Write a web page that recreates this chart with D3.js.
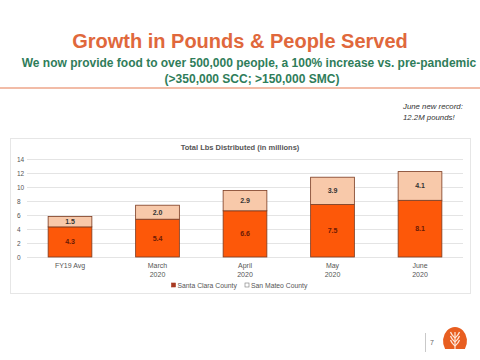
<!DOCTYPE html>
<html><head><meta charset="utf-8">
<script src="https://cdn.jsdelivr.net/npm/d3@7"></script>
<style>body{margin:0;background:#fff}svg{display:block;font-family:Arial,"Liberation Sans",sans-serif}</style>
</head><body>
<script>
const categories = ["FY19 Avg", "March\n2020", "April\n2020", "May\n2020", "June\n2020"];
const santaClara = [4.3, 5.4, 6.6, 7.5, 8.1];
const sanMateo = [1.5, 2.0, 2.9, 3.9, 4.1];
const yTicks = [0, 2, 4, 6, 8, 10, 12, 14];
const seriesNames = ["Santa Clara County", "San Mateo County"];

const W = 480, H = 360;
const svg = d3.select("body").append("svg").attr("width", W).attr("height", H);

// Title
svg.append("text").attr("x", 240).attr("y", 47.5).attr("text-anchor", "middle")
  .attr("font-size", 20).attr("font-weight", "bold").attr("fill", "#e0683c")
  .text("Growth in Pounds & People Served");
svg.append("text").attr("x", 249).attr("y", 67).attr("text-anchor", "middle")
  .attr("font-size", 12).attr("font-weight", "bold").attr("fill", "#2f7d5a")
  .text("We now provide food to over 500,000 people, a 100% increase vs. pre-pandemic");
svg.append("text").attr("x", 252).attr("y", 82.5).attr("text-anchor", "middle")
  .attr("font-size", 12).attr("font-weight", "bold").attr("fill", "#2f7d5a")
  .text("(>350,000 SCC; >150,000 SMC)");
svg.append("line").attr("x1", 0).attr("x2", 480).attr("y1", 88).attr("y2", 88)
  .attr("stroke", "#eea68a").attr("stroke-width", 1.5);

// annotation
svg.append("text").attr("x", 403).attr("y", 109).attr("font-size", 7.8).attr("font-style", "italic").attr("fill", "#333").text("June new record:");
svg.append("text").attr("x", 403).attr("y", 119.5).attr("font-size", 7.8).attr("font-style", "italic").attr("fill", "#333").text("12.2M pounds!");

// chart box
svg.append("rect").attr("x", 10.5).attr("y", 138.5).attr("width", 460).attr("height", 155)
  .attr("fill", "#fff").attr("stroke", "#e6e6e6").attr("stroke-width", 1);

svg.append("text").attr("x", 240).attr("y", 150).attr("text-anchor", "middle")
  .attr("font-size", 7.5).attr("font-weight", "bold").attr("fill", "#555")
  .text("Total Lbs Distributed (in millions)");

const x = d3.scaleBand().domain(categories).range([26.25, 463.75]).paddingInner(0.5).paddingOuter(0.25);
const y = d3.scaleLinear().domain([0, 14]).range([257, 159]);

// gridlines
svg.append("g").selectAll("line").data(yTicks).join("line")
  .attr("x1", 27).attr("x2", 463).attr("y1", d => Math.round(y(d)) + 0.5).attr("y2", d => Math.round(y(d)) + 0.5)
  .attr("stroke", "#e4e4e4").attr("stroke-width", 1);

// y axis labels
const yAxis = d3.axisLeft(y).tickValues(yTicks).tickSize(0).tickPadding(0);
const gy = svg.append("g").attr("transform", "translate(17,0)").call(yAxis);
gy.select(".domain").remove();
gy.selectAll("text").attr("text-anchor", "start").attr("x", 0).attr("font-size", 6.5).attr("fill", "#555").attr("font-family", "Arial, Liberation Sans, sans-serif");

// x axis labels
const xAxis = d3.axisBottom(x).tickSize(0).tickPadding(0).tickFormat(() => "");
const gx = svg.append("g").attr("transform", "translate(0,262)").call(xAxis);
gx.select(".domain").remove();
gx.selectAll(".tick").each(function(d) {
  const lines = d.split("\n");
  const t = d3.select(this).select("text").text(null).attr("font-size", 7).attr("fill", "#555")
    .attr("font-family", "Arial, Liberation Sans, sans-serif").attr("dy", 0).attr("y", 6.3);
  lines.forEach((l, i) => t.append("tspan").attr("x", 0).attr("dy", i === 0 ? 0 : 8.5).text(l));
});

// bars
const data = categories.map((c, i) => ({cat: c, sc: santaClara[i], sm: sanMateo[i]}));
const bars = svg.append("g");
bars.selectAll(".sc").data(data).join("rect")
  .attr("x", d => x(d.cat)).attr("width", x.bandwidth())
  .attr("y", d => y(d.sc)).attr("height", d => y(0) - y(d.sc))
  .attr("fill", "#fd5809").attr("stroke", "#7a3a20").attr("stroke-width", 0.8);
bars.selectAll(".sm").data(data).join("rect")
  .attr("x", d => x(d.cat)).attr("width", x.bandwidth())
  .attr("y", d => y(d.sc + d.sm)).attr("height", d => y(d.sc) - y(d.sc + d.sm))
  .attr("fill", "#f8c9aa").attr("stroke", "#7a3a20").attr("stroke-width", 0.8);

// value labels
bars.selectAll(".lsc").data(data).join("text")
  .attr("x", d => x(d.cat) + x.bandwidth() / 2).attr("y", d => y(d.sc / 2) + 2.5)
  .attr("text-anchor", "middle").attr("font-size", 7).attr("font-weight", "bold").attr("fill", "#6b1a05")
  .text(d => d.sc.toFixed(1));
bars.selectAll(".lsm").data(data).join("text")
  .attr("x", d => x(d.cat) + x.bandwidth() / 2).attr("y", d => y(d.sc + d.sm / 2) + 2.5)
  .attr("text-anchor", "middle").attr("font-size", 7).attr("font-weight", "bold").attr("fill", "#333")
  .text(d => d.sm.toFixed(1));

// legend
const legend = svg.append("g");
const legendX = [171.5, 245];
const legendFill = ["#a83a22", "#fff"];
const legendStroke = ["#a83a22", "#777"];
seriesNames.forEach((n, i) => {
  legend.append("rect").attr("x", legendX[i]).attr("y", 283).attr("width", 4).attr("height", 4)
    .attr("fill", legendFill[i]).attr("stroke", legendStroke[i]).attr("stroke-width", 0.6);
  legend.append("text").attr("x", legendX[i] + 6).attr("y", 287.5).attr("font-size", 6.8).attr("fill", "#555").text(n);
});

// page number & logo
svg.append("line").attr("x1", 425.5).attr("x2", 425.5).attr("y1", 333).attr("y2", 352).attr("stroke", "#bbb").attr("stroke-width", 0.8);
svg.append("text").attr("x", 430).attr("y", 345).attr("font-size", 7).attr("fill", "#666").text("7");
const logo = svg.append("g").attr("transform", "translate(455,341)");
logo.append("path").attr("d", "M-9.9,8 A12,14 0 1 1 9.9,8 Z").attr("fill", "#e85e20");
logo.append("line").attr("x1", 0).attr("x2", 0).attr("y1", -9).attr("y2", 8).attr("stroke", "#fde6d8").attr("stroke-width", 1.2);
[-6, -2, 2].forEach(yy => {
  logo.append("path").attr("d", `M0,${yy + 3} Q-3.5,${yy} -4.5,${yy - 3}`).attr("stroke", "#fde6d8").attr("fill", "none").attr("stroke-width", 1.3);
  logo.append("path").attr("d", `M0,${yy + 3} Q3.5,${yy} 4.5,${yy - 3}`).attr("stroke", "#fde6d8").attr("fill", "none").attr("stroke-width", 1.3);
});
</script>
</body></html>
